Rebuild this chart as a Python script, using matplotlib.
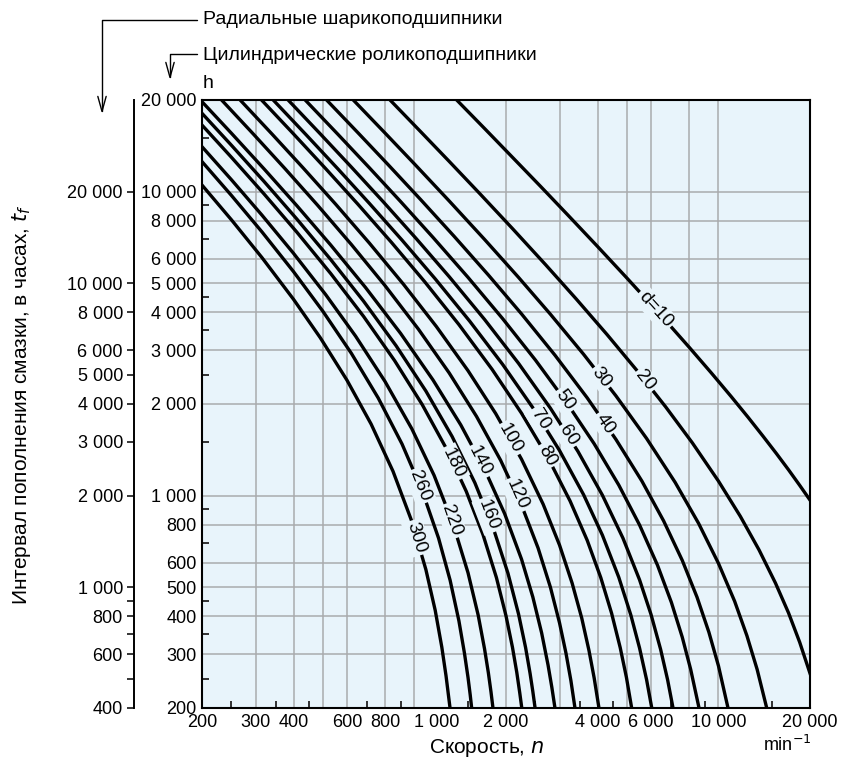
import numpy as np
import matplotlib
matplotlib.use("Agg")
import matplotlib.pyplot as plt
from matplotlib.patches import FancyArrowPatch
from matplotlib.path import Path
from matplotlib.ticker import FixedLocator, FixedFormatter, NullFormatter

plt.rcParams['font.family'] = ['Liberation Sans', 'DejaVu Sans']

# Bore diameter d, mm (one curve each)
diameters = [10, 20, 30, 40, 50, 60, 70, 80, 100, 120, 140, 160, 180, 220, 260, 300]

# Speed n, min^-1, along each curve
speed_pts = [
    [1377, 1700, 2100, 2600, 3200, 4000, 5000, 6000, 7000, 8000, 9500, 11000,
     12500, 14000, 15500, 17000, 18500, 20000],
    [831, 1050, 1300, 1650, 2100, 2700, 3400, 4300, 5400, 6700, 8200, 10000,
     11800, 13600, 15400, 17000, 18500, 20000],
    [629, 800, 1000, 1300, 1700, 2200, 2800, 3600, 4600, 5800, 7200, 8600,
     10000, 11300, 12400, 13400, 14410],
    [514, 650, 820, 1050, 1350, 1750, 2250, 2900, 3700, 4600, 5600, 6600,
     7600, 8500, 9300, 10000, 10748],
    [437, 560, 710, 900, 1150, 1500, 1950, 2500, 3150, 3900, 4700, 5500,
     6300, 7000, 7600, 8100, 8630],
    [384, 490, 620, 790, 1010, 1300, 1700, 2200, 2800, 3450, 4150, 4850,
     5500, 6000, 6450, 6800, 7087],
    [343, 440, 560, 710, 910, 1170, 1520, 1950, 2450, 3000, 3600, 4150,
     4700, 5150, 5500, 5800, 6033],
    [314, 400, 510, 650, 840, 1080, 1400, 1800, 2250, 2750, 3250, 3700,
     4100, 4450, 4750, 4980, 5181],
    [267, 340, 430, 550, 710, 920, 1180, 1500, 1850, 2250, 2650, 3000,
     3300, 3550, 3750, 3900, 4044],
    [232, 295, 375, 480, 620, 800, 1030, 1300, 1600, 1920, 2250, 2550,
     2800, 3000, 3150, 3270, 3372],
    [200, 250, 320, 410, 530, 690, 900, 1150, 1420, 1700, 1980, 2250,
     2450, 2620, 2750, 2830, 2898],
    [200, 250, 320, 410, 530, 680, 870, 1090, 1330, 1580, 1820, 2030,
     2200, 2320, 2400, 2450, 2493],
    [200, 250, 320, 410, 530, 680, 860, 1060, 1270, 1480, 1680, 1860,
     2000, 2100, 2170, 2220, 2254],
    [200, 250, 315, 400, 510, 640, 800, 980, 1160, 1340, 1500, 1620,
     1700, 1750, 1785, 1812],
    [200, 250, 315, 400, 500, 620, 760, 910, 1060, 1200, 1310, 1400,
     1460, 1500, 1525, 1542],
    [200, 250, 315, 400, 490, 600, 720, 850, 980, 1090, 1170, 1230,
     1270, 1295, 1309],
]

# Relubrication interval, h (cylindrical roller bearing scale)
hours_pts = [
    [20000, 16120, 12960, 10390, 8355, 6596, 5189, 4250, 3580, 3078, 2522, 2118,
     1811, 1569, 1375, 1215, 1080, 966],
    [20000, 15700, 12570, 9777, 7554, 5743, 4438, 3384, 2573, 1958, 1491, 1115,
     854, 662, 515, 411, 329, 260],
    [20000, 15575, 12319, 9314, 6957, 5216, 3947, 2914, 2127, 1541, 1105, 810,
     598, 449, 346, 268, 200],
    [20000, 15649, 12240, 9385, 7123, 5313, 3956, 2892, 2095, 1529, 1115, 825,
     612, 463, 355, 275, 200],
    [20000, 15419, 11980, 9270, 7068, 5219, 3817, 2789, 2036, 1480, 1082, 800,
     590, 445, 342, 268, 200],
    [20000, 15471, 12032, 9242, 7025, 5250, 3795, 2720, 1937, 1396, 1003, 724,
     528, 406, 312, 248, 200],
    [20000, 15371, 11865, 9148, 6919, 5161, 3743, 2699, 1945, 1406, 1006, 741,
     538, 404, 315, 248, 200],
    [20000, 15469, 11900, 9105, 6802, 5051, 3650, 2600, 1864, 1330, 959, 712,
     537, 410, 316, 252, 200],
    [20000, 15448, 11964, 9092, 6772, 4953, 3597, 2574, 1860, 1316, 936, 687,
     515, 395, 309, 251, 200],
    [20000, 15459, 11892, 9014, 6693, 4903, 3526, 2532, 1820, 1306, 929, 672,
     499, 381, 303, 246, 200],
    [19740, 15542, 11869, 8989, 6671, 4835, 3415, 2401, 1707, 1220, 871, 617,
     464, 353, 277, 234, 200],
    [18080, 14192, 10790, 8123, 5976, 4358, 3109, 2207, 1563, 1101, 776, 555,
     407, 316, 260, 227, 200],
    [16540, 12954, 9816, 7356, 5375, 3883, 2779, 1992, 1433, 1032, 744, 537,
     402, 317, 262, 224, 200],
    [14040, 10929, 8360, 6262, 4584, 3345, 2372, 1658, 1165, 805, 557, 404,
     313, 261, 226, 200],
    [12540, 9704, 7364, 5451, 4033, 2935, 2092, 1477, 1036, 724, 526, 387,
     303, 252, 221, 200],
    [10500, 8068, 6061, 4420, 3303, 2393, 1718, 1201, 822, 571, 419, 317,
     255, 218, 200],
]

# Speed at which each curve carries its label
label_speed = [6200, 5733, 4128, 4235, 3127, 3198, 2588, 2722,
               2062, 2168, 1643, 1745, 1339, 1326, 1043, 1016]

# Axis ticks
x_labels = [200, 300, 400, 600, 800, 1000, 2000, 4000, 6000, 10000, 20000]
grid_vals = [300, 400, 500, 600, 800, 1000, 2000, 3000, 4000, 5000, 6000, 8000, 10000]
minor_vals = [250, 350, 450, 700, 900, 1500, 2500, 3500, 4500, 7000, 9000, 15000]
y_labels = [200, 300, 400, 500, 600, 800, 1000, 2000, 3000, 4000, 5000, 6000,
            8000, 10000, 20000]
ball_labels = [400, 600, 800, 1000, 2000, 3000, 4000, 5000, 6000, 8000, 10000, 20000]
ball_minor = [500, 700, 900]

BG = '#e8f4fb'
W, H = 841, 776
FS = 13


def fmt(v):
    return f"{v:,}".replace(",", " ")


def fx(px):
    return px / W


def fy(py):
    return 1 - py / H


fig = plt.figure(figsize=(W / 100, H / 100), dpi=100)
ax = fig.add_axes([fx(202), 68 / H, 608 / W, 608 / H])
ax.set_facecolor(BG)
ax.set_xscale('log')
ax.set_yscale('log')
ax.set_xlim(200, 20000)
ax.set_ylim(200, 20000)

for v in grid_vals:
    ax.axvline(v, color='#a9abad', lw=1.1, zorder=1)
    ax.axhline(v, color='#a9abad', lw=1.1, zorder=1)

# the "1 000" speed label sits a little to the right of its grid line
x_text = ["" if v == 1000 else fmt(v) for v in x_labels]
ax.xaxis.set_major_locator(FixedLocator(x_labels))
ax.xaxis.set_major_formatter(FixedFormatter(x_text))
ax.annotate(fmt(1000), xy=(1000, 0), xycoords=('data', 'axes fraction'),
            xytext=(16, -4), textcoords='offset points', ha='center', va='top',
            fontsize=FS)
ax.yaxis.set_major_locator(FixedLocator(y_labels))
ax.yaxis.set_major_formatter(FixedFormatter([fmt(v) for v in y_labels]))
ax.xaxis.set_minor_locator(FixedLocator(minor_vals))
ax.yaxis.set_minor_locator(FixedLocator(minor_vals))
ax.xaxis.set_minor_formatter(NullFormatter())
ax.yaxis.set_minor_formatter(NullFormatter())
ax.tick_params(which='major', length=0, labelsize=FS, pad=4)
ax.tick_params(which='minor', direction='in', length=5, width=1.3, color='#222222')
for s in ax.spines.values():
    s.set_linewidth(1.5)
    s.set_zorder(5)

for n, t in zip(speed_pts, hours_pts):
    ax.plot(n, t, color='black', lw=2.4, zorder=3, solid_joinstyle='round')

# Inline curve labels rotated along the curve
for d, n, t, ln in zip(diameters, speed_pts, hours_pts, label_speed):
    lx = np.log10(n)
    ly = np.log10(t)
    x0 = np.log10(ln)
    y0 = np.interp(x0, lx, ly)
    xa, xb = x0 - 0.03, x0 + 0.03
    ya, yb = np.interp(xa, lx, ly), np.interp(xb, lx, ly)
    pa = ax.transData.transform((10 ** xa, 10 ** ya))
    pb = ax.transData.transform((10 ** xb, 10 ** yb))
    ang = np.degrees(np.arctan2(pb[1] - pa[1], pb[0] - pa[0]))
    txt = f"d={d}" if d == 10 else str(d)
    ax.text(10 ** x0, 10 ** y0, txt, rotation=ang, rotation_mode='anchor',
            ha='center', va='center', fontsize=13.5, zorder=4,
            bbox=dict(boxstyle='square,pad=0.12', fc=BG, ec='none'))

# Ball bearing scale (twice the roller scale)
ax2 = fig.add_axes([fx(134), 68 / H, 0.0001, 608 / H])
ax2.set_yscale('log')
ax2.set_ylim(400, 40000)
ax2.patch.set_visible(False)
for k in ['top', 'right', 'bottom']:
    ax2.spines[k].set_visible(False)
ax2.spines['left'].set_linewidth(1.4)
ax2.xaxis.set_visible(False)
ax2.yaxis.set_major_locator(FixedLocator(ball_labels))
ax2.yaxis.set_major_formatter(FixedFormatter([fmt(v) for v in ball_labels]))
ax2.yaxis.set_minor_locator(FixedLocator(ball_minor))
ax2.yaxis.set_minor_formatter(NullFormatter())
ax2.tick_params(which='both', direction='out', length=5, width=1.1, labelsize=FS, pad=3)

# Headings with leader arrows
fig.text(fx(203), fy(20), "Радиальные шарикоподшипники", fontsize=14,
         ha='left', va='center')
fig.text(fx(203), fy(55), "Цилиндрические роликоподшипники", fontsize=14,
         ha='left', va='center')
fig.text(fx(203), fy(84), "h", fontsize=14, ha='left', va='center')

for pts in ([(197, 19.5), (102, 19.5), (102, 114)],
            [(197, 54), (170, 54), (170, 80)]):
    path = Path([(fx(x), fy(y)) for x, y in pts])
    arr = FancyArrowPatch(path=path, arrowstyle='->,head_length=0.9,head_width=0.25',
                          mutation_scale=12, lw=1.0, color='black',
                          transform=fig.transFigure)
    fig.add_artist(arr)

# Axis titles
fig.text(fx(487), fy(748), "Скорость, $\\it{n}$", fontsize=15, ha='center', va='center')
fig.text(fx(812), fy(745), "min$^{-1}$", fontsize=13, ha='right', va='center')
fig.text(fx(22), fy(405), "Интервал пополнения смазки, в часах, $\\it{t}_{\\it{f}}$",
         fontsize=15, rotation=90, ha='center', va='center')

fig.savefig('out.png', dpi=100)
